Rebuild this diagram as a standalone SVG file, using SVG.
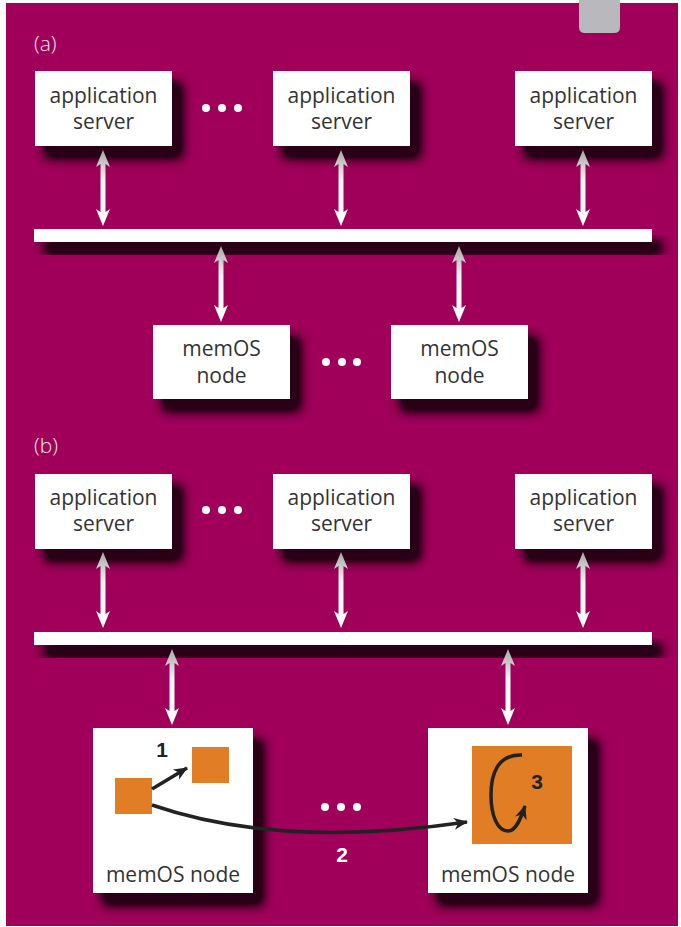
<svg xmlns="http://www.w3.org/2000/svg" width="681" height="927" viewBox="0 0 681 927">
  <defs>
    <filter id="shadow" x="-30%" y="-40%" width="170%" height="240%">
      <feGaussianBlur in="SourceAlpha" stdDeviation="6"/>
      <feOffset dx="10" dy="12"/>
      <feComponentTransfer result="b"><feFuncA type="linear" slope="1.7"/></feComponentTransfer>
      <feFlood flood-color="#2c0016" flood-opacity="1"/>
      <feComposite in2="b" operator="in"/>
      <feMerge><feMergeNode/><feMergeNode in="SourceGraphic"/></feMerge>
    </filter>
    <linearGradient id="ag" x1="0" y1="0" x2="0" y2="1">
      <stop offset="0" stop-color="#a6a6a6"/>
      <stop offset="0.4" stop-color="#f4f4f4"/>
      <stop offset="1" stop-color="#ffffff"/>
    </linearGradient>
    <path id="dbl" d="M0,0 L7,17 L2.5,14 L2.5,62 L7,59 L0,76 L-7,59 L-2.5,62 L-2.5,14 L-7,17 Z" fill="url(#ag)"/>
    <marker id="bk" markerUnits="userSpaceOnUse" markerWidth="16" markerHeight="14" refX="0" refY="0" viewBox="-14 -7 16 14" orient="auto">
      <path d="M1,0 L-13,-6 L-9,0 L-13,6 Z" fill="#222"/>
    </marker>
    <style>
      .box { fill: #ffffff; }
      .lbl { font-family: "Open Sans", "DejaVu Sans", sans-serif; font-size: 21px; fill: #333333; text-anchor: middle; }
      .sec { font-family: "Open Sans", "DejaVu Sans", sans-serif; font-size: 21px; font-weight: 300; fill: #f0e6ec; }
      .num { font-family: "Liberation Sans", "DejaVu Sans", sans-serif; font-size: 21px; font-weight: bold; text-anchor: middle; }
      .dot { fill: #ffffff; }
      .sq { fill: #e07d25; }
      .blk { fill: none; stroke: #222222; stroke-width: 3.5; marker-end: url(#bk); }
    </style>
  </defs>

  <rect x="0" y="0" width="681" height="927" fill="#ffffff"/>
  <rect x="6" y="3" width="672" height="923" fill="#a0005a"/>
  <path d="M579,0 L620,0 L620,27 Q620,33 614,33 L585,33 Q579,33 579,27 Z" fill="#b9b9bd"/>

  <text class="sec" x="34" y="51">(a)</text>
  <text class="sec" x="34" y="453">(b)</text>

  <!-- section (a) -->
  <g id="a-app1" filter="url(#shadow)"><rect class="box" x="35" y="71" width="137" height="75"/></g>
  <g id="a-app1-t"><text class="lbl" x="103.5" y="103">application</text><text class="lbl" x="103.5" y="129">server</text></g>
  <g id="a-app2" filter="url(#shadow)"><rect class="box" x="273" y="71" width="137" height="75"/></g>
  <g id="a-app2-t"><text class="lbl" x="341.5" y="103">application</text><text class="lbl" x="341.5" y="129">server</text></g>
  <g id="a-app3" filter="url(#shadow)"><rect class="box" x="515" y="71" width="137" height="75"/></g>
  <g id="a-app3-t"><text class="lbl" x="583.5" y="103">application</text><text class="lbl" x="583.5" y="129">server</text></g>
  <g id="a-bus" filter="url(#shadow)"><rect class="box" x="34" y="229" width="618" height="13"/></g>
  <g id="a-mem1" filter="url(#shadow)"><rect class="box" x="153" y="325" width="137" height="74"/></g>
  <g id="a-mem1-t"><text class="lbl" x="221.5" y="356">memOS</text><text class="lbl" x="221.5" y="383">node</text></g>
  <g id="a-mem2" filter="url(#shadow)"><rect class="box" x="391" y="325" width="137" height="74"/></g>
  <g id="a-mem2-t"><text class="lbl" x="459.5" y="356">memOS</text><text class="lbl" x="459.5" y="383">node</text></g>
  <g id="a-dots">
    <circle class="dot" cx="206" cy="108" r="4"/><circle class="dot" cx="222" cy="108" r="4"/><circle class="dot" cx="238" cy="108" r="4"/>
    <circle class="dot" cx="326" cy="362" r="4"/><circle class="dot" cx="342" cy="362" r="4"/><circle class="dot" cx="357" cy="362" r="4"/>
  </g>

  <!-- section (b) -->
  <g id="b-app1" filter="url(#shadow)"><rect class="box" x="35" y="474" width="137" height="75"/></g>
  <g id="b-app1-t"><text class="lbl" x="103.5" y="505">application</text><text class="lbl" x="103.5" y="531">server</text></g>
  <g id="b-app2" filter="url(#shadow)"><rect class="box" x="273" y="474" width="137" height="75"/></g>
  <g id="b-app2-t"><text class="lbl" x="341.5" y="505">application</text><text class="lbl" x="341.5" y="531">server</text></g>
  <g id="b-app3" filter="url(#shadow)"><rect class="box" x="515" y="474" width="137" height="75"/></g>
  <g id="b-app3-t"><text class="lbl" x="583.5" y="505">application</text><text class="lbl" x="583.5" y="531">server</text></g>
  <g id="b-bus" filter="url(#shadow)"><rect class="box" x="34" y="632" width="618" height="13"/></g>
  <g id="b-mem1" filter="url(#shadow)"><rect class="box" x="93" y="728" width="160" height="165"/></g>
  <g id="b-mem1-c">
    <rect class="sq" x="115" y="778" width="37" height="36"/>
    <rect class="sq" x="192" y="747" width="37" height="36"/>
    <text class="lbl" x="173" y="882">memOS node</text>
  </g>
  <g id="b-mem2" filter="url(#shadow)"><rect class="box" x="428" y="728" width="160" height="165"/></g>
  <g id="b-mem2-c">
    <rect class="sq" x="472" y="746" width="100" height="98"/>
    <text class="lbl" x="508" y="882">memOS node</text>
  </g>
  <g id="b-dots">
    <circle class="dot" cx="206" cy="510" r="4"/><circle class="dot" cx="222" cy="510" r="4"/><circle class="dot" cx="238" cy="510" r="4"/>
    <circle class="dot" cx="325" cy="807" r="4"/><circle class="dot" cx="341" cy="807" r="4"/><circle class="dot" cx="357" cy="807" r="4"/>
  </g>

  <!-- connectors -->
  <g id="connectors">
    <use href="#dbl" x="103" y="150"/>
    <use href="#dbl" x="341" y="150"/>
    <use href="#dbl" x="583" y="150"/>
    <use href="#dbl" x="221" y="246"/>
    <use href="#dbl" x="459" y="246"/>
    <use href="#dbl" x="103" y="552"/>
    <use href="#dbl" x="341" y="552"/>
    <use href="#dbl" x="583" y="552"/>
    <use href="#dbl" x="172" y="649"/>
    <use href="#dbl" x="508" y="649"/>
    <path class="blk" d="M152,789 L187,768"/>
    <path class="blk" d="M152,805 C230,832 330,842 467,822"/>
    <path class="blk" d="M522,755 C497,754 491,775 491,795 C491,817 498,831 508,831 C516,831 521,818 525,806"/>
    <text class="num" x="162" y="757" fill="#222222">1</text>
    <text class="num" x="342" y="862" fill="#ffffff">2</text>
    <text class="num" x="537" y="789" fill="#222222">3</text>
  </g>
</svg>
